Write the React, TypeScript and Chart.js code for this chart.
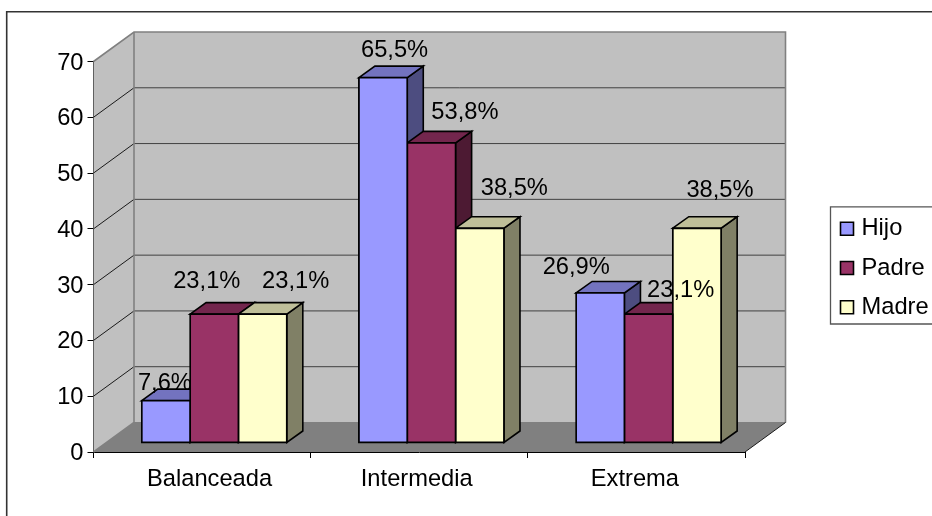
import React, { useEffect, useRef } from "react";
import { Chart, registerables } from "chart.js";

Chart.register(...registerables);

const categories = ["Balanceada", "Intermedia", "Extrema"];
const hijo = [7.6, 65.5, 26.9];
const padre = [23.1, 53.8, 23.1];
const madre = [23.1, 38.5, 38.5];
const seriesNames = ["Hijo", "Padre", "Madre"];
const seriesColors = ["#9999FF", "#993366", "#FFFFCC"];
const topColors = ["#7373BF", "#73264D", "#BFBF99"];
const sideColors = ["#4D4D80", "#4D1A33", "#808066"];

// Hand-placed value labels: centre offset from each bar's front top edge, per series.
const labelOffsets = [
  [[-1, -17], [11.5, -27], [-24, -25]],
  [[-7.5, -33], [33.5, -30], [32, -24]],
  [[33, -33], [34.5, -40], [23, -38]],
];
const categoryNudges = [7.5, -2.5, -1.5];

const FONT = '"Liberation Sans", Arial, sans-serif';
const FONT_SIZE = 23.7;
const WALL = { dx: 40.5, dy: -29.5 };
const BAR_SHIFT = { dx: 12.2, dy: -9 };
const BAR_DEPTH = { dx: 16, dy: -11.5 };

const formatPercent = (v: number) => v.toFixed(1).replace(".", ",") + "%";

const strokePath = (ctx: any, pts: number[][], color: string, width: number) => {
  ctx.beginPath();
  pts.forEach(([x, y], i) => (i ? ctx.lineTo(x, y) : ctx.moveTo(x, y)));
  ctx.lineWidth = width;
  ctx.strokeStyle = color;
  ctx.stroke();
};

const fillPath = (ctx: any, pts: number[][], fill: string, stroke?: string, width = 1) => {
  ctx.beginPath();
  pts.forEach(([x, y], i) => (i ? ctx.lineTo(x, y) : ctx.moveTo(x, y)));
  ctx.closePath();
  ctx.fillStyle = fill;
  ctx.fill();
  if (stroke) {
    ctx.lineWidth = width;
    ctx.lineJoin = "miter";
    ctx.strokeStyle = stroke;
    ctx.stroke();
  }
};

// Outer frame, walls, floor and the pseudo-3D faces of the columns.
const scenePlugin = {
  id: "scene3d",
  afterLayout(chart: any) {
    const { x, y } = chart.scales;
    x.getLabelItems(chart.chartArea).forEach((item: any, i: number) => {
      const [tx, ty] = item.options.translation;
      item.options.translation = [tx + categoryNudges[i], ty];
    });
    y.getLabelItems(chart.chartArea).forEach((item: any) => {
      const [tx, ty] = item.options.translation;
      item.options.translation = [tx + 1, ty + 1.5];
    });
  },
  beforeDatasetsDraw(chart: any) {
    const { ctx, chartArea: a, scales } = chart;
    const { dx, dy } = WALL;
    const backL = a.left + dx;
    const backR = a.right + dx;
    const backT = a.top + dy;
    const backB = a.bottom + dy;

    ctx.save();
    fillPath(ctx, [[backL, backT], [backR, backT], [backR, backB], [backL, backB]], "#C0C0C0");
    fillPath(ctx, [[a.left, a.top], [backL, backT], [backL, backB], [a.left, a.bottom]], "#C0C0C0");
    fillPath(ctx, [[a.left, a.bottom], [backL, backB], [backR, backB], [a.right, a.bottom]], "#808080");

    scales.y.ticks.forEach((t: any) => {
      if (t.value === 0 || t.value === scales.y.max) return;
      const y = scales.y.getPixelForValue(t.value);
      strokePath(ctx, [[a.left, y], [backL, y + dy]], "#1a1a1a", 1);
      strokePath(ctx, [[backL, y + dy], [backR, y + dy]], "#404040", 1);
    });

    strokePath(ctx, [[a.left, a.top], [backL, backT], [backR, backT], [backR, backB]], "#808080", 1.6);
    strokePath(ctx, [[backL, backT], [backL, backB], [a.left, a.bottom]], "#808080", 1.6);
    strokePath(ctx, [[backL, backB], [backR, backB]], "#808080", 1.2);
    strokePath(ctx, [[a.right, a.bottom], [backR, backB]], "#1a1a1a", 1);

    // Side and top faces, painted left to right so nearer columns overlap.
    chart.data.datasets.forEach((_: any, ds: number) => {
      chart.getDatasetMeta(ds).data.forEach((bar: any) => {
        const l = bar.x - bar.width / 2 + BAR_SHIFT.dx;
        const r = bar.x + bar.width / 2 + BAR_SHIFT.dx;
        const t = bar.y + BAR_SHIFT.dy;
        const b = bar.base + BAR_SHIFT.dy;
        const { dx: ddx, dy: ddy } = BAR_DEPTH;
        fillPath(ctx, [[r, t], [r + ddx, t + ddy], [r + ddx, b + ddy], [r, b]], sideColors[ds], "#000", 1.6);
        fillPath(ctx, [[l, t], [l + ddx, t + ddy], [r + ddx, t + ddy], [r, t]], topColors[ds], "#000", 1.6);
      });
    });
    ctx.restore();

    // Native columns are painted at the shifted depth; restored in afterDatasetsDraw.
    ctx.save();
    ctx.translate(BAR_SHIFT.dx, BAR_SHIFT.dy);
  },
  afterDatasetsDraw(chart: any) {
    const { ctx } = chart;
    ctx.restore();

    ctx.save();
    ctx.font = `${FONT_SIZE}px ${FONT}`;
    ctx.textAlign = "center";
    ctx.textBaseline = "middle";
    ctx.fillStyle = "#000";
    chart.data.datasets.forEach((dataset: any, ds: number) => {
      chart.getDatasetMeta(ds).data.forEach((bar: any, i: number) => {
        const [ox, oy] = labelOffsets[ds][i];
        ctx.fillText(
          formatPercent(dataset.data[i]),
          bar.x + BAR_SHIFT.dx + ox,
          bar.y + BAR_SHIFT.dy + oy
        );
      });
    });
    ctx.restore();
  },
  afterDraw(chart: any) {
    const { ctx, width, height } = chart;
    ctx.save();
    // Chart frame: only its top and left edges fall inside the canvas.
    strokePath(ctx, [[6.7, height], [6.7, 11.7], [width, 11.7]], "#333333", 1.6);

    // Legend box.
    strokePath(ctx, [[width, 206.8], [830.5, 206.8], [830.5, 324], [width, 324]], "#555555", 1.3);
    ctx.font = `${FONT_SIZE}px ${FONT}`;
    ctx.textAlign = "left";
    ctx.textBaseline = "middle";
    seriesNames.forEach((name, i) => {
      const y = 228.8 + i * 39.2;
      fillPath(ctx, [[840.5, y - 6.5], [853.5, y - 6.5], [853.5, y + 6.5], [840.5, y + 6.5]], seriesColors[i], "#000", 1.6);
      ctx.fillStyle = "#000";
      ctx.fillText(name, 861.5, y);
    });
    ctx.restore();
  },
};

const makeDataset = (label: string, data: number[], i: number) => ({
  label,
  data,
  backgroundColor: seriesColors[i],
  borderColor: "#000",
  borderWidth: 1.8,
  borderSkipped: false,
  inflateAmount: 0.9,
  clip: false as const,
});

export default function App() {
  const ref = useRef<HTMLCanvasElement>(null);

  useEffect(() => {
    const chart = new Chart(ref.current as HTMLCanvasElement, {
      type: "bar",
      data: {
        labels: categories,
        datasets: [
          makeDataset(seriesNames[0], hijo, 0),
          makeDataset(seriesNames[1], padre, 1),
          makeDataset(seriesNames[2], madre, 2),
        ],
      },
      plugins: [scenePlugin],
      options: {
        animation: false,
        responsive: false,
        layout: { padding: { top: 61.5, right: 187, left: 0, bottom: 0 } },
        datasets: { bar: { categoryPercentage: 0.668, barPercentage: 1 } },
        plugins: { legend: { display: false }, tooltip: { enabled: false } },
        scales: {
          x: {
            grid: { drawOnChartArea: false, drawTicks: true, tickLength: 6, color: "#000", offset: true },
            border: { color: "#000", width: 1 },
            ticks: { color: "#000", font: { family: FONT, size: FONT_SIZE }, padding: 7, maxRotation: 0 },
            afterFit: (s: any) => { s.height = 64; },
          },
          y: {
            min: 0,
            max: 70,
            grid: { drawOnChartArea: false, drawTicks: true, tickLength: 6, color: "#000" },
            border: { color: "#000", width: 1 },
            ticks: { stepSize: 10, color: "#000", font: { family: FONT, size: FONT_SIZE }, padding: 5 },
            afterFit: (s: any) => { s.width = 93.5; },
          },
        },
      },
    } as any);
    return () => chart.destroy();
  }, []);

  return (
    <div style={{ position: "fixed", left: 0, top: 0, width: 932, height: 516, background: "#fff" }}>
      <canvas ref={ref} width={932} height={516} style={{ display: "block" }} />
    </div>
  );
}
